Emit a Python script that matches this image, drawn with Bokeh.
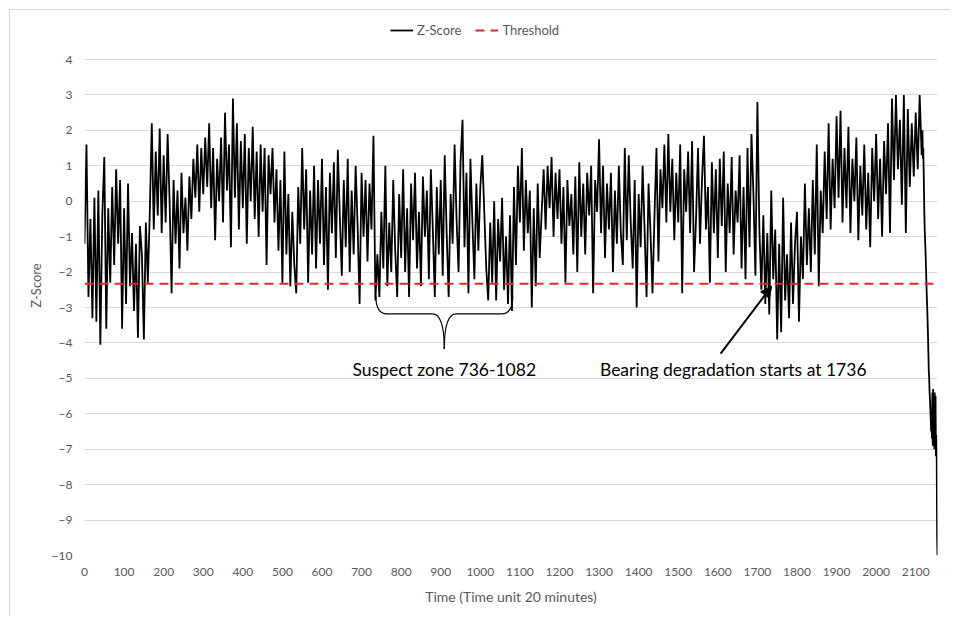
import numpy as np
from bokeh.plotting import figure
from bokeh.models import Range1d, FixedTicker, Legend, LegendItem, Arrow, NormalHead, Label
from bokeh.embed import file_html
from bokeh.resources import INLINE

# ---------------- data ----------------
STEP = 5  # main series sampled every 5 time units, t = 0 .. 2115
z_0000 = [  # t = 0 .. 495
    -1.2, 1.6, -2.7, -0.5, -3.3, 0.1, -3.4, 0.3, -4.05, -0.4, 1.25, -3.6, -0.2, -2.3, 0.4, -1.8, 0.9, -1.2, 0.6, -3.6,
    -0.2, -2.9, 0.5, -2.4, -0.9, -3.1, -1.2, -3.85, -0.7, -1.5, -3.9, -0.6, -2.3, -0.3, 2.2, -0.8, 1.4, -0.4, 2.05, -0.9,
    1.3, -0.6, 1.9, 0.0, -2.6, 0.6, -1.2, 0.3, -1.9, 0.8, -0.9, 0.1, -1.4, 0.7, -0.5, 1.2, 0.1, 1.6, -0.3, 1.5,
    0.2, 1.8, 0.4, 2.2, -0.2, 1.5, -1.1, 1.2, 0.0, 1.8, -0.6, 2.5, 0.3, 1.6, -1.3, 2.9, 0.1, 2.2, -0.8, 1.7,
    -0.2, 1.9, -1.2, 1.5, 0.0, 2.1, -0.5, 1.4, -1.0, 1.6, -0.3, 1.5, -1.8, 1.3, 0.2, 1.5, -0.6, 0.9, -1.4, 0.6,
]
z_0500 = [  # t = 500 .. 995
    -2.3, 1.4, -1.5, 0.2, -2.4, -0.3, -1.8, -2.6, 0.4, -1.2, 1.5, -0.8, 0.9, -2.3, 0.3, -1.5, 1.0, -1.9, 0.6, -1.2,
    1.2, -1.8, 0.4, -2.5, 0.8, -0.9, 1.1, -1.6, 1.45, -0.4, -2.1, 0.6, -1.3, 1.2, -2.0, 0.3, -1.5, 1.0, -0.7, -2.9,
    0.8, -1.0, 0.6, -1.7, 0.5, -0.8, 1.85, -2.8, -1.5, -2.7, -0.3, -1.9, 1.0, -2.4, -0.6, -2.0, 0.6, -1.4, -2.7, 0.2,
    -1.6, 0.9, -2.0, -0.2, -2.7, 0.5, -1.1, 0.8, -1.9, -0.3, -2.4, 0.7, -1.0, 0.3, -2.2, 0.9, -0.8, -2.7, 0.4, -1.5,
    0.6, -2.1, 1.3, -0.9, -2.7, 0.2, -1.2, 1.6, -0.5, -2.0, 1.1, 2.3, -1.3, 0.8, -2.6, 1.2, -0.6, -2.2, 0.5, -1.4,
]
z_1000 = [  # t = 1000 .. 1495
    0.4, 1.3, -0.3, -1.9, -2.8, -0.6, -2.3, 0.0, -2.8, -0.5, -1.7, 0.1, -2.5, -1.0, -2.9, -0.4, -3.1, 0.4, -1.8, 1.0,
    -0.6, 1.5, -1.4, 0.6, -0.9, 0.3, -3.0, -0.2, -2.4, 0.5, -1.6, -0.3, 0.9, -0.8, 1.0, -0.2, 1.25, -1.0, 0.8, -0.5,
    0.9, -1.2, 0.4, -2.3, 0.6, -0.7, 0.2, -1.5, 0.7, -2.0, 1.1, -1.0, 0.5, -1.5, 0.8, -0.4, 1.0, -2.6, 0.6, -0.3,
    1.75, -0.9, 1.0, -1.6, 0.5, -0.8, 0.8, -2.0, 0.3, -1.2, 1.0, -0.9, -1.8, 1.5, -1.1, 1.3, -0.6, -1.9, 0.6, -3.0,
    0.2, -1.3, 1.0, -0.8, -2.7, 0.5, -0.9, -2.6, -0.4, 1.5, -1.7, 0.9, -0.2, 1.6, -0.6, 1.9, -0.3, 1.2, -1.1, 0.8,
]
z_1500 = [  # t = 1500 .. 1995
    -0.6, 1.6, -2.6, 0.9, -0.3, 1.4, -0.9, 1.7, -2.0, -0.5, 1.5, -1.2, 0.6, 1.85, -0.8, 0.4, -2.3, 1.1, -0.9, 0.9,
    -1.6, 1.2, -0.7, 1.4, -2.0, 0.5, -0.9, 1.25, -1.5, 0.3, -0.6, 1.3, -1.9, 0.4, -2.2, 1.5, -1.3, 1.9, 0.2, -2.1,
    2.8, -0.8, -2.5, -0.4, -2.9, -0.9, -3.2, 0.3, -2.2, -0.8, -3.9, -1.2, -3.7, 0.1, -2.8, -1.5, -3.3, -0.6, -2.9, -1.2,
    -0.3, -3.4, -1.0, -2.2, 0.5, -1.8, -0.2, -2.0, 0.6, -1.5, 1.6, -2.4, 0.3, -0.9, 1.4, -0.5, 2.2, -0.8, 1.2, -0.2,
    2.4, 0.1, 2.55, -0.6, 1.5, -0.2, 2.1, -0.9, 1.2, 0.0, 1.8, -1.1, 1.0, -0.4, 1.6, -0.8, 0.8, -1.3, 1.5, 0.0,
]
z_2000 = [  # t = 2000 .. 2115
    1.9, -0.5, 1.2, -1.0, 1.7, 0.2, 2.2, -0.9, 2.9, 0.6, 3.0, 0.9, 2.3, -0.1, 3.0, -0.9, 2.6, 0.4, 2.2, 0.7,
    2.5, 0.9, 3.0, 1.3,
]
tail_t = list(range(2116, 2156))  # final collapse, every time unit
tail_z = [
    1.6, 2.0, 1.2, 1.5, 0.9, 0.2, -0.5, -0.9, -1.2, -1.5, -1.9, -2.3, -2.7, -3.0, -3.4, -3.8, -4.3, -4.8, -5.0, -5.4,
    -5.6, -5.9, -6.2, -6.5, -6.3, -6.7, -5.4, -6.9, -5.3, -6.5, -5.6, -7.0, -5.4, -6.8, -5.5, -7.2, -6.6, -7.2, -9.5, -10.0,
]
threshold = -2.33
x_ticks = [0, 100, 200, 300, 400, 500, 600, 700, 800, 900, 1000, 1100, 1200, 1300, 1400, 1500, 1600, 1700, 1800,
           1900, 2000, 2100]
y_ticks = [-10, -9, -8, -7, -6, -5, -4, -3, -2, -1, 0, 1, 2, 3, 4]
zone_start, zone_end = 736, 1082
degradation_start = 1736

# ---------------- build series ----------------
z_main = z_0000 + z_0500 + z_1000 + z_1500 + z_2000
t_main = list(range(0, STEP * len(z_main), STEP))
t_all = t_main + tail_t
z_all = z_main + tail_z

FONT = "Lato"
GREY = "#595959"

# the frame extends above the top gridline (4) so that the legend sits inside it
p = figure(width=950, height=616, output_backend="svg", toolbar_location=None,
           x_range=Range1d(0, t_all[-1]), y_range=Range1d(-10, 5.242),
           min_border_left=84, min_border_right=13, min_border_top=15, min_border_bottom=61)
p.background_fill_color = "white"
p.border_fill_color = None
p.outline_line_color = None
p.styles = {
    "background": "linear-gradient(#d9d9d9, #d9d9d9) 9px 9px / 1px 100% no-repeat, "
                  "linear-gradient(#d9d9d9, #d9d9d9) 9px 9px / 100% 1px no-repeat, white"
}

p.xgrid.grid_line_color = None
p.ygrid.grid_line_color = "#d9d9d9"
p.ygrid.grid_line_width = 1
p.xaxis.ticker = FixedTicker(ticks=x_ticks)
p.yaxis.ticker = FixedTicker(ticks=y_ticks)
for ax in (p.xaxis[0], p.yaxis[0]):
    ax.axis_line_color = None
    ax.major_tick_line_color = None
    ax.minor_tick_line_color = None
    ax.major_tick_out = 0
    ax.major_tick_in = 0
    ax.major_label_text_font = FONT
    ax.major_label_text_font_size = "12px"
    ax.major_label_text_color = GREY
    ax.axis_label_text_font = FONT
    ax.axis_label_text_font_style = "normal"
    ax.axis_label_text_color = GREY
p.xaxis.major_label_standoff = 12
p.yaxis.major_label_standoff = 12
p.xaxis.axis_label = "Time (Time unit 20 minutes)"
p.xaxis.axis_label_text_font_size = "14px"
p.xaxis.axis_label_standoff = 9
p.yaxis.axis_label = "Z-Score"
p.yaxis.axis_label_text_font_size = "13px"
p.yaxis.axis_label_standoff = 5

zr = p.line(t_all, z_all, line_color="black", line_width=1.8)
tr = p.line([t_all[0], t_all[-1]], [threshold, threshold], line_color="#e8262a",
            line_width=2, line_dash="9 6")

legend = Legend(items=[LegendItem(label="Z-Score", renderers=[zr]),
                       LegendItem(label="Threshold", renderers=[tr])],
                orientation="horizontal", location=(306, 517),
                background_fill_alpha=0, border_line_color=None,
                label_text_font=FONT, label_text_font_size="13px", label_text_color=GREY,
                glyph_width=23, glyph_height=12, label_standoff=4, spacing=14,
                padding=0, margin=0)
p.add_layout(legend, "center")

# curly brace under the suspect zone
mid_t = (zone_start + zone_end) / 2
b_top, b_mid, b_tip = -2.66, -3.18, -4.17
w1, w2 = 28, 30
p.quadratic(x0=[zone_start, zone_end, mid_t - w2, mid_t + w2],
            y0=[b_top, b_top, b_mid, b_mid],
            x1=[zone_start + w1, zone_end - w1, mid_t, mid_t],
            y1=[b_mid, b_mid, b_tip, b_tip],
            cx=[zone_start, zone_end, mid_t, mid_t],
            cy=[b_mid, b_mid, b_mid, b_mid],
            line_color="black", line_width=1.2)
p.segment(x0=[zone_start + w1, mid_t + w2], y0=[b_mid, b_mid],
          x1=[mid_t - w2, zone_end - w1], y1=[b_mid, b_mid],
          line_color="black", line_width=1.2)

p.add_layout(Label(x=mid_t, y=-4.75, text=f"Suspect zone {zone_start}-{zone_end}",
                   text_align="center", text_baseline="middle",
                   text_font=FONT, text_font_size="17.5px", text_color="black"))
p.add_layout(Label(x=1639, y=-4.75, text=f"Bearing degradation starts at {degradation_start}",
                   text_align="center", text_baseline="middle",
                   text_font=FONT, text_font_size="17.5px", text_color="black"))
p.add_layout(Arrow(end=NormalHead(size=11, fill_color="black", line_color="black"),
                   x_start=1607, y_start=-4.3, x_end=degradation_start, y_end=-2.4,
                   line_color="black", line_width=2))

open("out.html", "w").write(file_html(p, INLINE))
